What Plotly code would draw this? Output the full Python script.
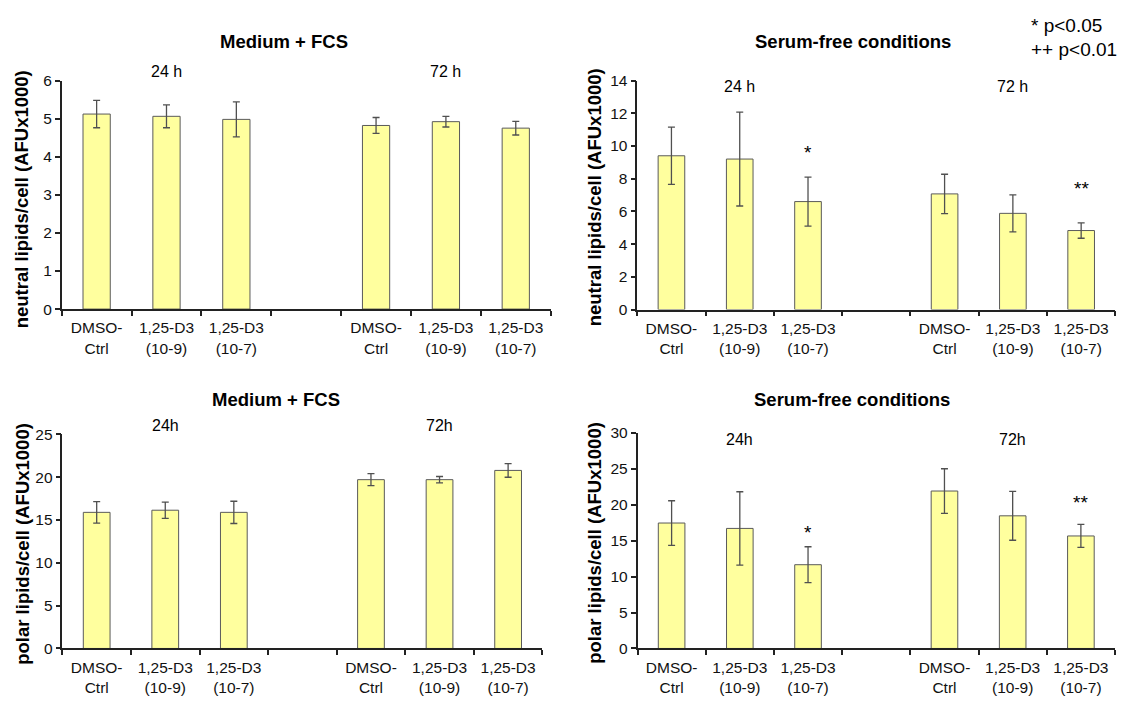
import plotly.graph_objects as go

# ---------------- data ----------------
categories = ["DMSO-<br>Ctrl", "1,25-D3<br>(10-9)", "1,25-D3<br>(10-7)"]
time_24 = "24 h"
time_72 = "72 h"
time_24_polar = "24h"
time_72_polar = "72h"

neutral_fcs_24 = [5.12, 5.06, 4.98]
neutral_fcs_24_err = [0.36, 0.30, 0.46]
neutral_fcs_72 = [4.82, 4.92, 4.75]
neutral_fcs_72_err = [0.21, 0.14, 0.18]

neutral_sf_24 = [9.4, 9.2, 6.6]
neutral_sf_24_err = [1.75, 2.87, 1.5]
neutral_sf_72 = [7.07, 5.88, 4.83]
neutral_sf_72_err = [1.2, 1.13, 0.47]

polar_fcs_24 = [15.9, 16.15, 15.9]
polar_fcs_24_err = [1.25, 0.95, 1.3]
polar_fcs_72 = [19.72, 19.72, 20.8]
polar_fcs_72_err = [0.7, 0.37, 0.8]

polar_sf_24 = [17.45, 16.7, 11.65]
polar_sf_24_err = [3.1, 5.1, 2.5]
polar_sf_72 = [21.9, 18.45, 15.65]
polar_sf_72_err = [3.1, 3.4, 1.6]

# significance marks: (category index within group, time group, label, y-position)
neutral_sf_marks = [(2, 0, "*", 9.6), (2, 1, "**", 7.4)]
polar_sf_marks = [(2, 0, "*", 16.1), (2, 1, "**", 20.3)]

title_fcs = "Medium + FCS"
title_sf = "Serum-free conditions"
ytitle_neutral = "neutral lipids/cell (AFUx1000)"
ytitle_polar = "polar lipids/cell (AFUx1000)"
legend_lines = ["* p<0.05", "++ p<0.01"]

# ---------------- layout helpers ----------------
W, H = 1122, 703
FONT = "Liberation Sans, Arial, sans-serif"
BAR_COLOR = "#FFFF9E"
LINE = "#222222"

# slot positions: group 1 -> 0,1,2 ; empty slot 3 ; group 2 -> 4,5,6
pos_24 = [0, 1, 2]
pos_72 = [4, 5, 6]
positions = pos_24 + pos_72
boundaries = [i - 0.5 for i in range(8)]


def px_x(a, b):
    return [a / W, b / W]


def px_y(top, bottom):
    return [1 - bottom / H, 1 - top / H]


panels = [
    dict(vals=neutral_fcs_24 + neutral_fcs_72, errs=neutral_fcs_24_err + neutral_fcs_72_err,
         xdom=px_x(61.7, 550.7), ydom=px_y(73.3, 307.5), yr=[0, 6], dt=1,
         title=title_fcs, title_xy=(284, 33), ytitle=ytitle_neutral, ytitle_xy=(21, 195),
         times=(time_24, time_72), time_y=6.24, marks=[]),
    dict(vals=neutral_sf_24 + neutral_sf_72, errs=neutral_sf_24_err + neutral_sf_72_err,
         xdom=px_x(637.3, 1115.3), ydom=px_y(73.3, 308), yr=[0, 14], dt=2,
         title=title_sf, title_xy=(853, 33), ytitle=ytitle_neutral, ytitle_xy=(594, 193),
         times=(time_24, time_72), time_y=13.66, marks=neutral_sf_marks),
    dict(vals=polar_fcs_24 + polar_fcs_72, errs=polar_fcs_24_err + polar_fcs_72_err,
         xdom=px_x(62.4, 542.4), ydom=px_y(436, 655.3), yr=[0, 25], dt=5,
         title=title_fcs, title_xy=(276, 400), ytitle=ytitle_polar, ytitle_xy=(23, 548),
         times=(time_24_polar, time_72_polar), time_y=26.0, marks=[]),
    dict(vals=polar_sf_24 + polar_sf_72, errs=polar_sf_24_err + polar_sf_72_err,
         xdom=px_x(637.5, 1115), ydom=px_y(434.3, 655.3), yr=[0, 30], dt=5,
         title=title_sf, title_xy=(852, 400), ytitle=ytitle_polar, ytitle_xy=(595, 547),
         times=(time_24_polar, time_72_polar), time_y=29.1, marks=polar_sf_marks),
]

fig = go.Figure()
annotations = []
layout = dict(
    width=W, height=H, margin=dict(l=0, r=0, t=0, b=0),
    paper_bgcolor="white", plot_bgcolor="white", showlegend=False,
    font=dict(family=FONT, color="black"),
)

for i, p in enumerate(panels):
    n = "" if i == 0 else str(i + 1)
    xa, ya = "x" + n, "y" + n
    fig.add_trace(go.Bar(
        x=positions, y=p["vals"], xaxis=xa, yaxis=ya, width=0.39,
        marker=dict(color=BAR_COLOR, line=dict(color="#5a5a5a", width=1)),
        error_y=dict(type="data", array=p["errs"], visible=True,
                     color="#505050", thickness=1.3, width=3.5),
        hoverinfo="y",
    ))
    layout["xaxis" + n] = dict(
        domain=p["xdom"], anchor=ya, range=[-0.5, 6.5],
        tickmode="array", tickvals=positions, ticktext=categories * 2,
        ticks="", showline=True, linecolor=LINE, linewidth=1.5,
        showgrid=False, zeroline=False, fixedrange=True, ticklabelstandoff=4,
        tickfont=dict(family=FONT, size=15.5, color="#111"),
        minor=dict(tickmode="array", tickvals=boundaries, ticks="outside",
                   ticklen=5, tickwidth=1.5, tickcolor=LINE, showgrid=False),
    )
    layout["yaxis" + n] = dict(
        domain=p["ydom"], anchor=xa, range=p["yr"], dtick=p["dt"], tick0=0,
        ticks="outside", ticklen=5, tickwidth=1.5, tickcolor=LINE,
        showline=True, linecolor=LINE, linewidth=1.5,
        showgrid=False, zeroline=False, fixedrange=True,
        tickfont=dict(family=FONT, size=15.5, color="#111"),
    )
    # panel title
    annotations.append(dict(
        text="<b>%s</b>" % p["title"], xref="paper", yref="paper",
        x=p["title_xy"][0] / W, y=1 - p["title_xy"][1] / H,
        xanchor="center", yanchor="middle", showarrow=False,
        font=dict(family=FONT, size=18.5, color="black")))
    # y-axis title
    annotations.append(dict(
        text="<b>%s</b>" % p["ytitle"], xref="paper", yref="paper",
        x=p["ytitle_xy"][0] / W, y=1 - p["ytitle_xy"][1] / H, textangle=-90,
        xanchor="center", yanchor="middle", showarrow=False,
        font=dict(family=FONT, size=18.5, color="black")))
    # time labels above groups (y given in data units, placed via the axis domain)
    for t, gx in zip(p["times"], (pos_24[1], pos_72[1])):
        annotations.append(dict(
            text=t, xref=xa, yref=ya + " domain", x=gx,
            y=(p["time_y"] - p["yr"][0]) / (p["yr"][1] - p["yr"][0]),
            xanchor="center", yanchor="middle", showarrow=False,
            font=dict(family=FONT, size=16, color="black")))
    # significance marks
    for ci, gi, lab, yv in p["marks"]:
        gx = (pos_24, pos_72)[gi][ci]
        annotations.append(dict(
            text=lab, xref=xa, yref=ya, x=gx, y=yv,
            xanchor="center", yanchor="middle", showarrow=False,
            font=dict(family=FONT, size=19, color="black")))

# significance legend
for k, (line, yy) in enumerate(zip(legend_lines, (17, 42))):
    annotations.append(dict(
        text=line, xref="paper", yref="paper", x=1029 / W, y=1 - yy / H,
        xanchor="left", yanchor="middle", showarrow=False,
        font=dict(family=FONT, size=19, color="black")))

layout["annotations"] = annotations
fig.update_layout(**layout)
fig.write_html("out.html")
